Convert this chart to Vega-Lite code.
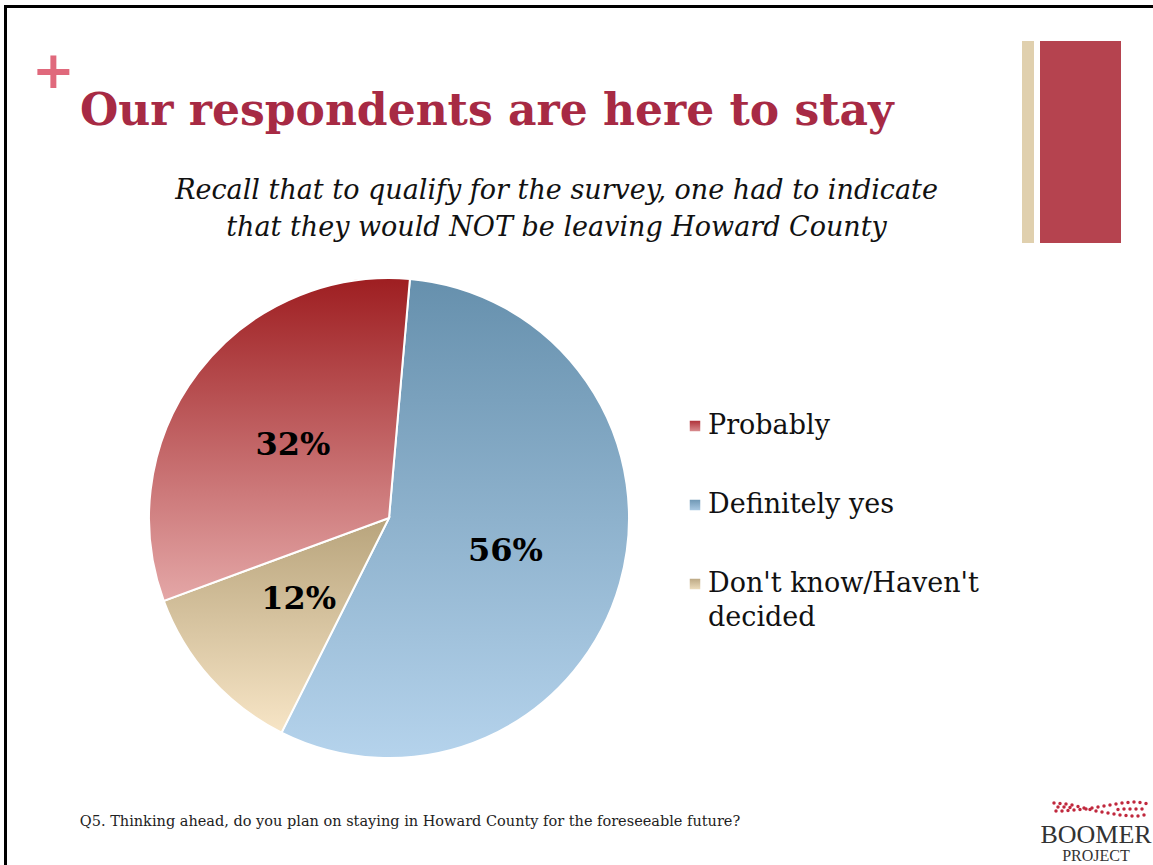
{
  "$schema": "https://vega.github.io/schema/vega-lite/v6.json",
  "background": "white",
  "padding": {"left": 4, "top": 5, "right": 0, "bottom": 0},
  "config": {"view": {"stroke": null}},
  "datasets": {
    "pie": [
      {"cat": "Definitely yes", "pct": 0.56, "ord": 1, "legendLabel": "Definitely yes"},
      {"cat": "Don't know/Haven't decided", "pct": 0.12, "ord": 2, "legendLabel": "Don't know/Haven't\ndecided"},
      {"cat": "Probably", "pct": 0.32, "ord": 3, "legendLabel": "Probably"}
    ],
    "one": [{}],
    "dots": [
      {"x": 13, "y": 10}, {"x": 19, "y": 10.5}, {"x": 25, "y": 11}, {"x": 31, "y": 12}, {"x": 37, "y": 13.5}, {"x": 43, "y": 15}, {"x": 49, "y": 16.5}, {"x": 55, "y": 18}, {"x": 61, "y": 19}, {"x": 67, "y": 20}, {"x": 73, "y": 21}, {"x": 79, "y": 22}, {"x": 85, "y": 22.5}, {"x": 91, "y": 23}, {"x": 97, "y": 23}, {"x": 103, "y": 22},
      {"x": 15, "y": 18}, {"x": 21, "y": 18}, {"x": 27, "y": 17.5}, {"x": 33, "y": 17}, {"x": 39, "y": 16.5}, {"x": 45, "y": 16}, {"x": 51, "y": 15}, {"x": 57, "y": 14}, {"x": 63, "y": 13}, {"x": 69, "y": 12}, {"x": 75, "y": 11}, {"x": 81, "y": 10}, {"x": 87, "y": 9.5}, {"x": 93, "y": 9}, {"x": 99, "y": 9.5}, {"x": 105, "y": 10.5},
      {"x": 17, "y": 14}, {"x": 23, "y": 14}, {"x": 29, "y": 14.5}, {"x": 77, "y": 16.5}, {"x": 83, "y": 16}, {"x": 89, "y": 16}, {"x": 95, "y": 16}, {"x": 101, "y": 16}
    ]
  },
  "spacing": 0,
  "hconcat": [
    {"width": 3, "height": 860, "data": {"name": "one"}, "mark": {"type": "rect", "color": "#000000"}},
    {
      "spacing": 33,
      "vconcat": [
        {"width": 1146, "height": 3, "data": {"name": "one"}, "mark": {"type": "rect", "color": "#000000"}},
        {
          "spacing": 0,
          "vconcat": [
            {
              "spacing": 6,
              "hconcat": [
                {
                  "title": {"text": "+", "anchor": "start", "dx": 25, "font": "DejaVu Sans", "fontSize": 51, "fontWeight": "bold", "color": "#e0697c", "offset": -58},
                  "vconcat": [
                    {
                      "title": {"text": "Our respondents are here to stay", "anchor": "start", "dx": 73, "font": "DejaVu Serif", "fontSize": 44, "fontWeight": "bold", "color": "#a72a44", "offset": -93},
                      "vconcat": [
                        {
                          "title": {"text": ["Recall that to qualify for the survey, one had to indicate", "that they would NOT be leaving Howard County"], "anchor": "middle", "dx": 45, "font": "DejaVu Serif", "fontStyle": "italic", "fontWeight": "normal", "fontSize": 27, "lineHeight": 37, "color": "#111111", "offset": -201},
                          "width": 1009, "height": 202,
                          "data": {"name": "one"},
                          "mark": {"type": "rect", "opacity": 0}
                        }
                      ]
                    }
                  ]
                },
                {"width": 12, "height": 202, "data": {"name": "one"}, "mark": {"type": "rect", "color": "#e0d0ae"}},
                {"width": 81, "height": 202, "data": {"name": "one"}, "mark": {"type": "rect", "color": "#b5434f"}}
              ]
            },
            {
              "spacing": 0,
              "hconcat": [
                {"width": 138, "height": 1, "data": {"name": "one"}, "mark": {"type": "rect", "opacity": 0}},
                {
                  "width": 480, "height": 550,
                  "data": {"name": "pie"},
                  "encoding": {
                    "theta": {"field": "pct", "type": "quantitative", "stack": true, "scale": {"range": [0.0873, 6.3705]}},
                    "order": {"field": "ord", "type": "quantitative"},
                    "detail": {"field": "cat", "type": "nominal"}
                  },
                  "layer": [
                    {
                      "mark": {"type": "arc", "outerRadius": 240, "stroke": "white", "strokeWidth": 2},
                      "encoding": {
                        "color": {
                          "condition": [
                            {"test": "datum.cat === 'Probably'", "value": {"gradient": "linear", "x1": 0, "y1": 0, "x2": 0, "y2": 1, "stops": [{"offset": 0, "color": "#9e1e21"}, {"offset": 1, "color": "#e4a7a7"}]}},
                            {"test": "datum.cat === 'Definitely yes'", "value": {"gradient": "linear", "x1": 0, "y1": 0, "x2": 0, "y2": 1, "stops": [{"offset": 0, "color": "#6690ad"}, {"offset": 1, "color": "#b5d3ec"}]}}
                          ],
                          "value": {"gradient": "linear", "x1": 0, "y1": 0, "x2": 0, "y2": 1, "stops": [{"offset": 0, "color": "#b8a47c"}, {"offset": 1, "color": "#f7e5c6"}]}
                        }
                      }
                    },
                    {
                      "mark": {"type": "text", "radius": 121, "font": "DejaVu Serif", "fontSize": 32, "fontWeight": "bold", "color": "#000000"},
                      "encoding": {
                        "text": {"field": "pct", "type": "quantitative", "format": ".0%"}
                      }
                    }
                  ]
                },
                {
                  "width": 124, "height": 524,
                  "data": {"name": "pie"},
                  "encoding": {
                    "y": {"field": "cat", "type": "nominal", "sort": ["Probably", "Definitely yes", "Don't know/Haven't decided"], "scale": {"type": "point", "range": [183, 341], "padding": 0}, "axis": null}
                  },
                  "layer": [
                    {
                      "mark": {"type": "square", "size": 110, "opacity": 1},
                      "encoding": {
                        "color": {
                          "condition": [
                            {"test": "datum.cat === 'Probably'", "value": {"gradient": "linear", "x1": 0, "y1": 0, "x2": 0, "y2": 1, "stops": [{"offset": 0, "color": "#b0333a"}, {"offset": 1, "color": "#d88c8e"}]}},
                            {"test": "datum.cat === 'Definitely yes'", "value": {"gradient": "linear", "x1": 0, "y1": 0, "x2": 0, "y2": 1, "stops": [{"offset": 0, "color": "#7098b5"}, {"offset": 1, "color": "#a9c8e2"}]}}
                          ],
                          "value": {"gradient": "linear", "x1": 0, "y1": 0, "x2": 0, "y2": 1, "stops": [{"offset": 0, "color": "#bda985"}, {"offset": 1, "color": "#ecdcbc"}]}
                        }
                      }
                    },
                    {
                      "mark": {"type": "text", "align": "left", "baseline": "middle", "dx": 13, "lineBreak": "\n", "lineHeight": 34, "font": "DejaVu Serif", "fontSize": 27, "color": "#111111"},
                      "encoding": {"text": {"field": "legendLabel", "type": "nominal"}}
                    }
                  ]
                }
              ]
            },
            {
              "spacing": 227,
              "hconcat": [
                {"width": 806, "height": 58, "data": {"name": "one"}, "mark": {"type": "text", "text": "Q5. Thinking ahead, do you plan on staying in Howard County for the foreseeable future?", "font": "DejaVu Serif", "fontSize": 14.5, "color": "#222222"}},
                {
                  "bounds": "flush",
                  "spacing": 0,
                  "vconcat": [
                    {
                      "width": 110, "height": 30,
                      "data": {"name": "dots"},
                      "mark": {"type": "circle", "size": 12, "color": "#c0283d", "opacity": 1},
                      "encoding": {
                        "x": {"field": "x", "type": "quantitative", "scale": {"domain": [0, 110], "nice": false, "zero": false}, "axis": null},
                        "y": {"field": "y", "type": "quantitative", "scale": {"domain": [0, 30], "nice": false, "reverse": true}, "axis": null}
                      }
                    },
                    {"width": 110, "height": 24, "data": {"name": "one"}, "mark": {"type": "text", "text": "BOOMER", "font": "Liberation Serif", "fontSize": 26, "color": "#333333"}},
                    {"width": 110, "height": 18, "data": {"name": "one"}, "mark": {"type": "text", "text": "PROJECT", "font": "Liberation Serif", "fontSize": 16, "color": "#333333"}}
                  ]
                }
              ]
            }
          ]
        }
      ]
    }
  ]
}
